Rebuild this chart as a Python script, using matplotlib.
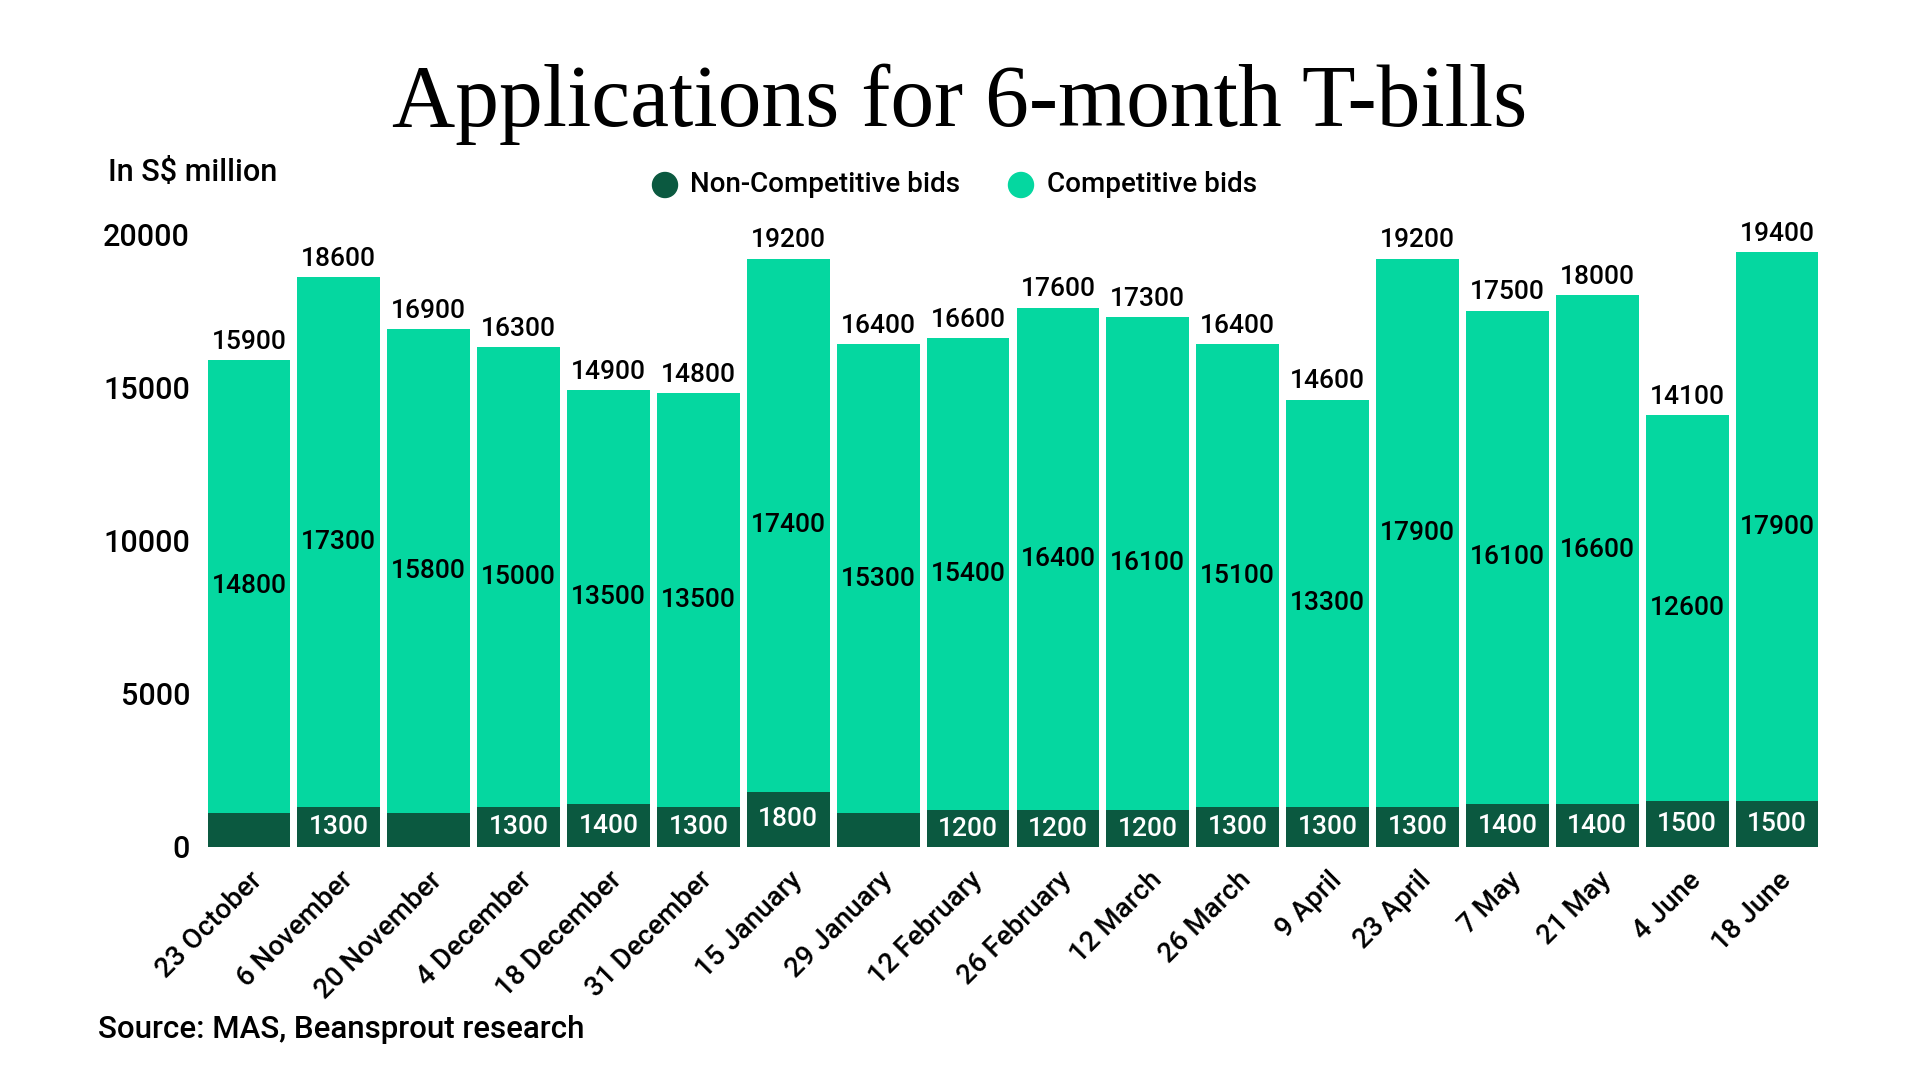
#------------------------------------------------------------------------------
#   Applications for 6-month T-bills, stacked bars
#------------------------------------------------------------------------------
import matplotlib.pyplot as plt
from matplotlib.patches import Ellipse
import numpy as np

dates = ["23 October", "6 November", "20 November", "4 December", "18 December",
         "31 December", "15 January", "29 January", "12 February", "26 February",
         "12 March", "26 March", "9 April", "23 April", "7 May", "21 May",
         "4 June", "18 June"]
non_competitive = [1100, 1300, 1100, 1300, 1400, 1300, 1800, 1100, 1200, 1200,
                   1200, 1300, 1300, 1300, 1400, 1400, 1500, 1500]
competitive = [14800, 17300, 15800, 15000, 13500, 13500, 17400, 15300, 15400, 16400,
               16100, 15100, 13300, 17900, 16100, 16600, 12600, 17900]
totals = [15900, 18600, 16900, 16300, 14900, 14800, 19200, 16400, 16600, 17600,
          17300, 16400, 14600, 19200, 17500, 18000, 14100, 19400]

DARK = "#0b5940"
BRIGHT = "#05d7a0"
SANS = ["Roboto", "DejaVu Sans"]

def main() -> None:
    plt.rcParams['font.family'] = SANS
    plt.rcParams['font.weight'] = 'medium'
    fig = plt.figure(figsize=(19.2, 10.8), dpi=100)
    ax = fig.add_axes([204/1920, 1 - 847/1080, (1822-204)/1920, (847-234)/1080])

    x = np.arange(len(dates))
    nc = np.array(non_competitive)
    co = np.array(competitive)
    ax.bar(x, nc, width=0.92, color=DARK)
    ax.bar(x, co, bottom=nc, width=0.92, color=BRIGHT)

    for i in x:
        if nc[i] >= 1200:   # smaller segments are left unlabelled in the original
            ax.text(i, nc[i]/2, str(nc[i]), ha='center', va='center', color='white',
                    fontsize=19)
        ax.text(i, nc[i] + co[i]/2, str(co[i]), ha='center', va='center', color='black',
                fontsize=19)
        ax.text(i, totals[i] + 200, str(totals[i]), ha='center', va='bottom', color='black',
                fontsize=19)

    ax.set_xlim(-0.5, len(dates) - 0.5)
    ax.set_ylim(0, 20000)
    ax.set_yticks(range(0, 20001, 5000))
    ax.set_xticks(x)
    ax.set_xticklabels(dates, rotation=45, ha='right', rotation_mode='anchor', fontsize=20)
    ax.tick_params(axis='y', length=0, labelsize=22, pad=10)
    ax.tick_params(axis='x', length=0, pad=14)
    for s in ax.spines.values():
        s.set_visible(False)

    fig.text(0.5, 1 - 104/1080, "Applications for 6-month T-bills", ha='center', va='center',
             fontsize=63, family=["Liberation Serif", "DejaVu Serif"])
    fig.text(108/1920, 1 - 173/1080, "In S$ million", ha='left', va='center', fontsize=22)
    fig.text(98/1920, 1 - 1029/1080, "Source: MAS, Beansprout research", ha='left',
             va='center', fontsize=22.5)

    # legend
    ly = 1 - 185/1080
    fig.patches.append(Ellipse((665/1920, ly), 25/1920, 25/1080, transform=fig.transFigure,
                               color=DARK))
    fig.text(690/1920, ly, "Non-Competitive bids", ha='left', va='center', fontsize=20)
    fig.patches.append(Ellipse((1021/1920, ly), 25/1920, 25/1080, transform=fig.transFigure,
                               color=BRIGHT))
    fig.text(1047/1920, ly, "Competitive bids", ha='left', va='center', fontsize=20)

    fig.savefig('out.png', dpi=100)

if __name__ == "__main__":
    main()
